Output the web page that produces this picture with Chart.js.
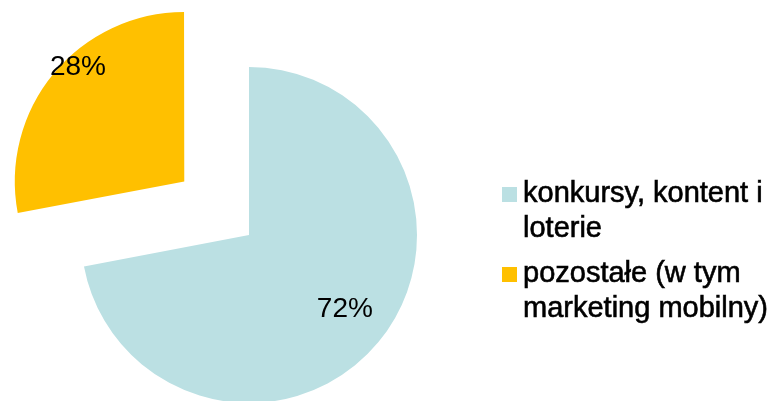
<!DOCTYPE html>
<html>
<head>
<meta charset="utf-8">
<script src="https://cdn.jsdelivr.net/npm/chart.js@4"></script>
<style>
  html, body { margin: 0; padding: 0; background: #fff; overflow: hidden; }
  #wrap { position: relative; width: 774px; height: 401px; }
  #legenda {
    position: absolute; left: 502px; top: 175px;
    font-family: "Liberation Sans", Arial, sans-serif;
    font-size: 29px; line-height: 35px; color: #000;
    -webkit-text-stroke: 0.6px #000;
  }
  #legenda .item { position: relative; padding-left: 21px; margin-bottom: 10px; white-space: nowrap; }
  #legenda .box { position: absolute; left: 0; top: 12px; width: 15px; height: 15px; }
</style>
</head>
<body>
<div id="wrap">
  <canvas id="pieChart"></canvas>
  <div id="legenda"></div>
</div>
<script>
// dane z wykresu
const categorias = [["konkursy, kontent i", "loterie"], ["pozostałe (w tym", "marketing mobilny)"]];
const valores = [72, 28];
const rotulos = ["72%", "28%"];
const cores = ["#bbe0e3", "#ffc000"];

// posicao dos rotulos de porcentagem (fracao do raio, desvio em graus)
const posRotulos = [{ r: 0.72, turn: -2 }, { r: 0.93, turn: 7.5 }];

const rotulosPlugin = {
  id: "rotulos",
  afterDatasetsDraw(chart) {
    const ctx = chart.ctx;
    const meta = chart.getDatasetMeta(0);
    ctx.save();
    ctx.font = '28px "Liberation Sans", Arial, sans-serif';
    ctx.fillStyle = "#000";
    ctx.textAlign = "center";
    ctx.textBaseline = "middle";
    meta.data.forEach((arc, i) => {
      const mid = (arc.startAngle + arc.endAngle) / 2;
      const desloc = (arc.options.offset || 0) / 4;
      const cx = arc.x + Math.cos(mid) * desloc;
      const cy = arc.y + Math.sin(mid) * desloc;
      const p = posRotulos[i];
      const a = mid + p.turn * Math.PI / 180;
      ctx.fillText(rotulos[i], cx + Math.cos(a) * arc.outerRadius * p.r, cy + Math.sin(a) * arc.outerRadius * p.r);
    });
    ctx.restore();
  }
};

const pieChart = new Chart(document.getElementById("pieChart").getContext("2d"), {
  type: "pie",
  data: {
    labels: categorias,
    datasets: [{
      data: valores,
      backgroundColor: cores,
      borderWidth: 0,
      offset: [0, 336],
      hoverOffset: 0,
      clip: false
    }]
  },
  options: {
    responsive: true,
    maintainAspectRatio: false,
    animation: false,
    cutout: "0%",
    radius: 168,
    layout: { padding: { left: 0, right: 276, top: 69, bottom: 0 } },
    plugins: {
      legend: { display: false },
      tooltip: { enabled: false }
    }
  },
  plugins: [rotulosPlugin]
});

// legenda em HTML
const legenda = document.getElementById("legenda");
categorias.forEach((linhas, i) => {
  const item = document.createElement("div");
  item.className = "item";
  const box = document.createElement("span");
  box.className = "box";
  box.style.background = cores[i];
  item.appendChild(box);
  linhas.forEach((txt, j) => {
    if (j > 0) item.appendChild(document.createElement("br"));
    item.appendChild(document.createTextNode(txt));
  });
  legenda.appendChild(item);
});
</script>
</body>
</html>
